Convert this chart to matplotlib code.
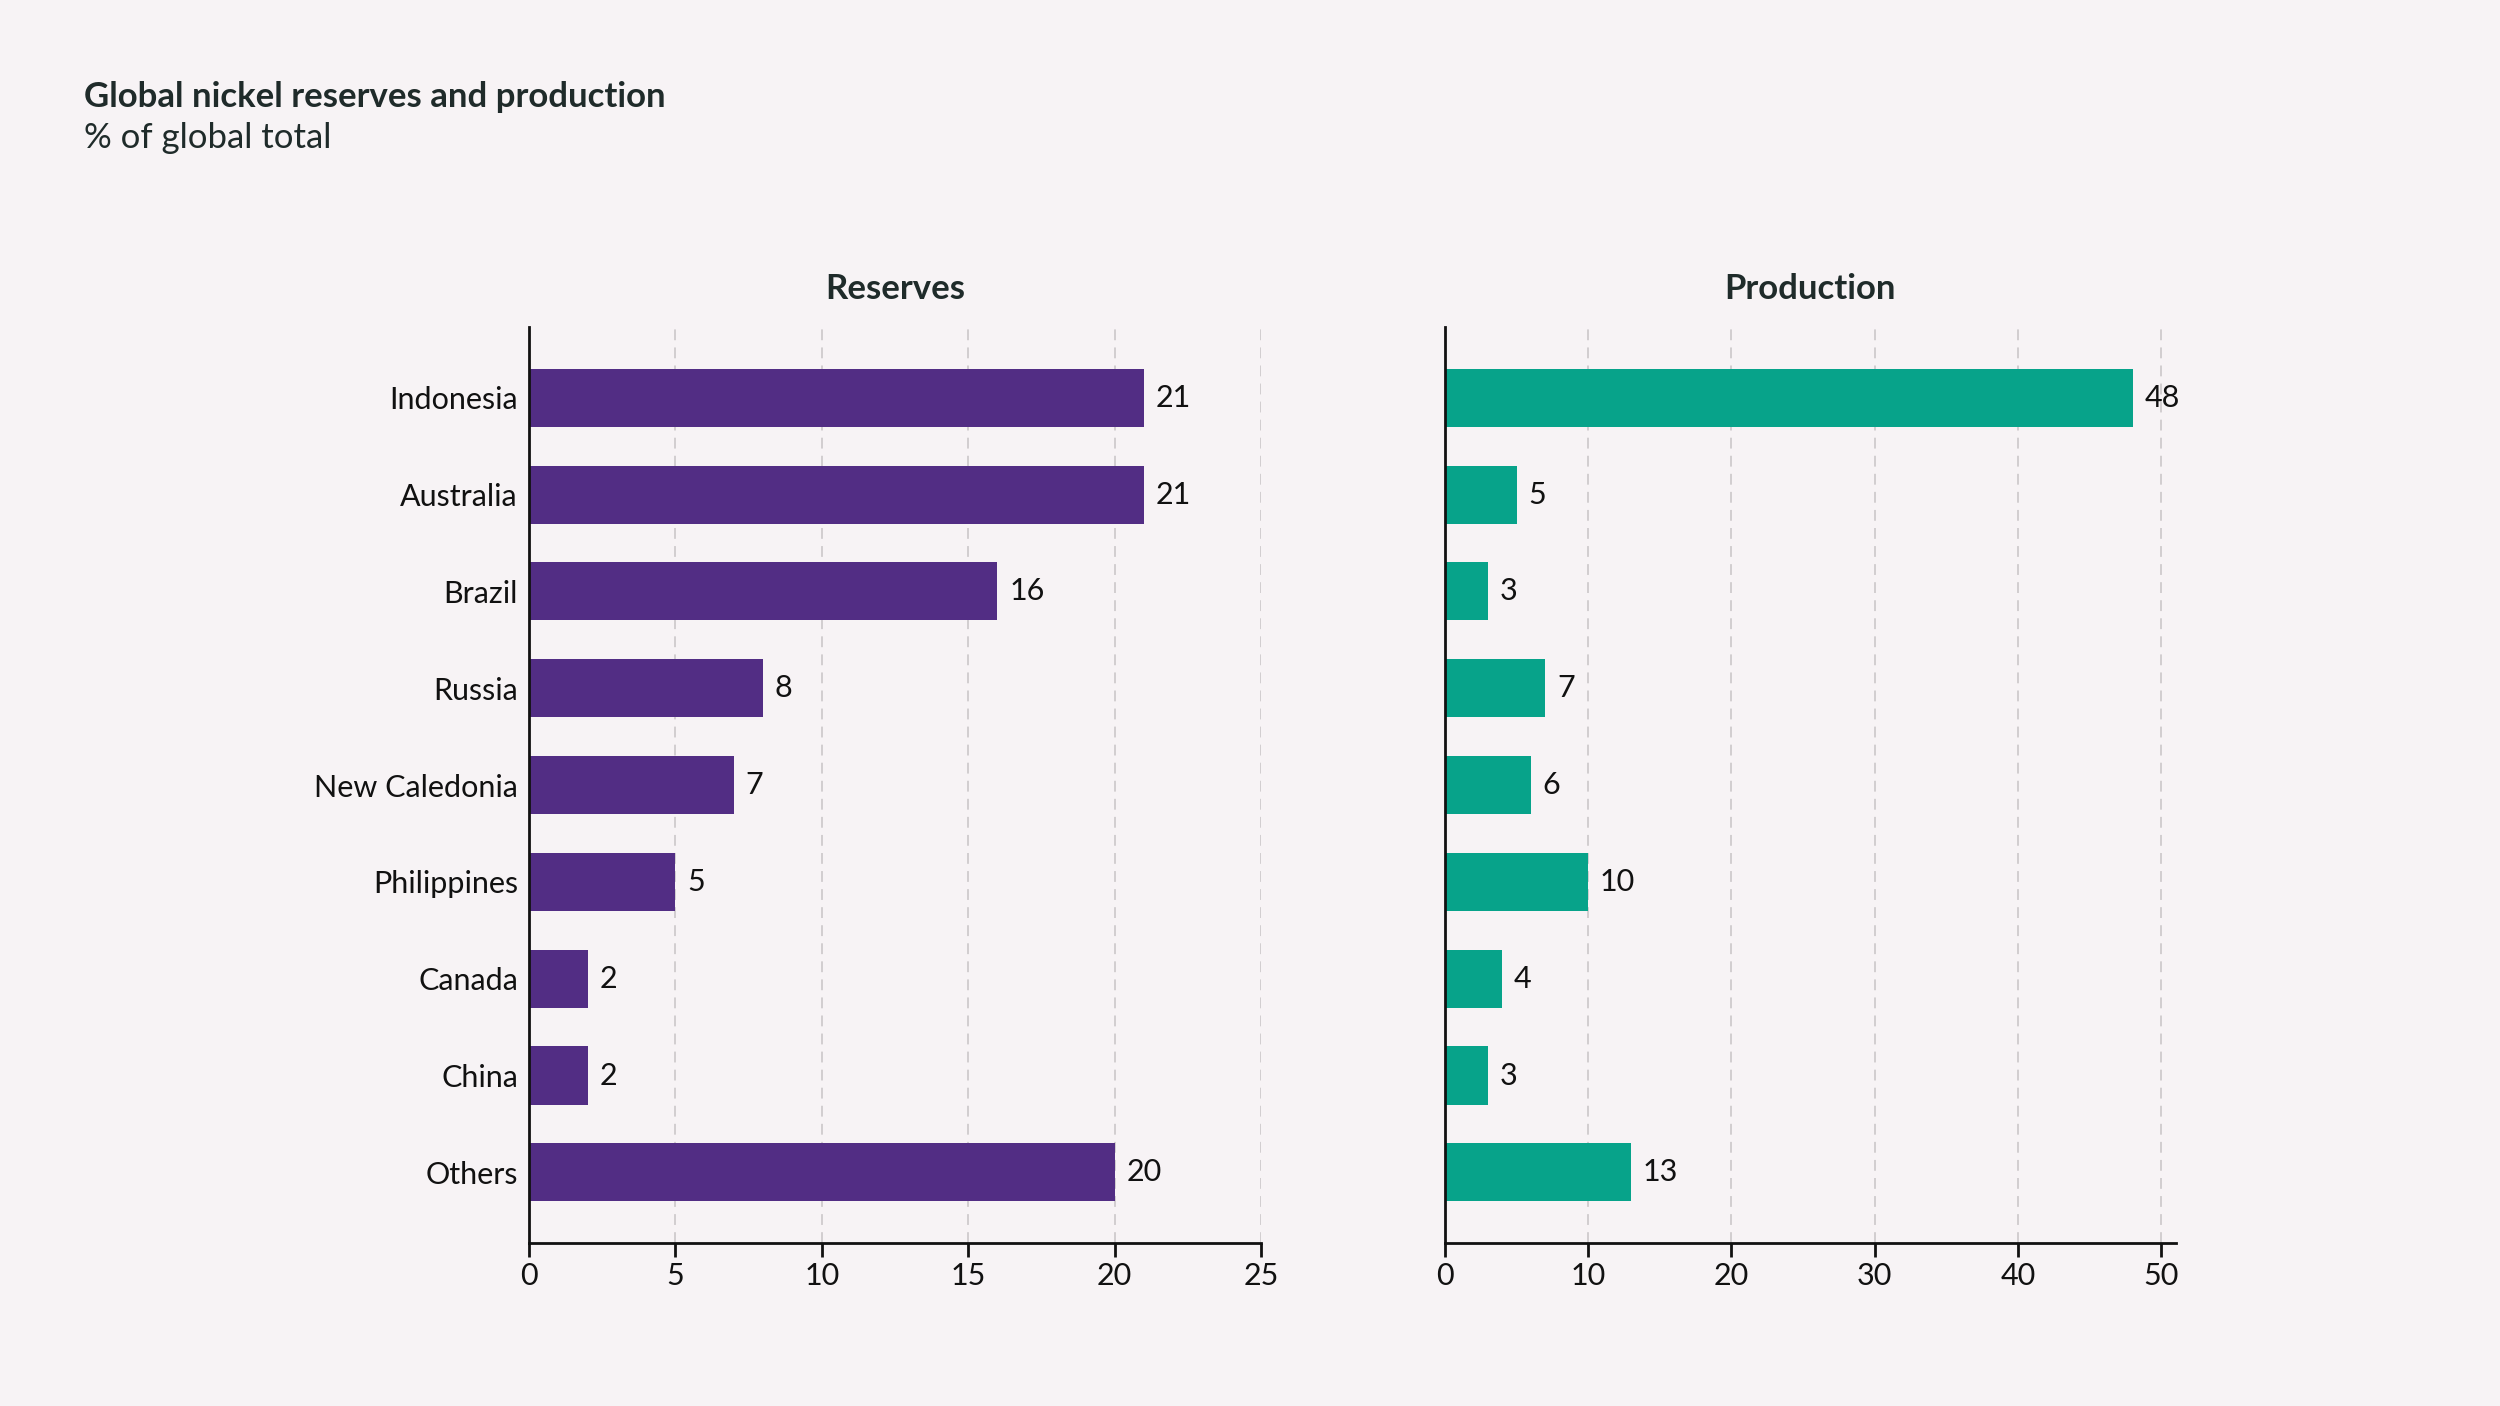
import matplotlib.pyplot as plt

# data
countries = ['Indonesia', 'Australia', 'Brazil', 'Russia', 'New Caledonia',
             'Philippines', 'Canada', 'China', 'Others']
reserves = [21, 21, 16, 8, 7, 5, 2, 2, 20]
production = [48, 5, 3, 7, 6, 10, 4, 3, 13]
reserve_ticks = [0, 5, 10, 15, 20, 25]
production_ticks = [0, 10, 20, 30, 40, 50]

BG = '#F7F3F5'
PURPLE = '#522D84'
TEAL = '#07A38A'
TEXT = '#1F2B2A'

plt.rcParams['font.family'] = ['Lato', 'DejaVu Sans']

fig = plt.figure(figsize=(25, 14.06), dpi=100, facecolor=BG)

ax1 = fig.add_axes([0.2116, 0.1159, 0.2928, 0.6515])
ax2 = fig.add_axes([0.578, 0.1159, 0.2922, 0.6515])


def draw_panel(ax, values, color, ticks, xmax, title, show_labels):
    ax.set_facecolor(BG)
    pos = list(range(len(countries)))
    ax.barh(pos, values, height=0.6, color=color, zorder=2)
    for p, v in zip(pos, values):
        ax.text(v + xmax * 0.016, p, f'{v}', va='center', ha='left',
                fontsize=22, color='#111111')
    ax.set_ylim(len(countries) - 1 + 0.73, -0.73)
    ax.set_xlim(0, xmax)
    ax.set_xticks(ticks)
    ax.set_xticklabels([str(t) for t in ticks], fontsize=22, color='#111111')
    for t in ticks[1:]:
        ax.axvline(t, color='#CFCBCD', lw=1.3, ls=(0, (6, 4)), zorder=1)
    ax.set_yticks(pos)
    if show_labels:
        ax.set_yticklabels(countries, fontsize=22, color='#111111')
    else:
        ax.set_yticklabels([])
    ax.tick_params(axis='y', length=0, pad=8)
    ax.tick_params(axis='x', length=10, width=2, color='#111111', pad=4)
    for s in ['top', 'right']:
        ax.spines[s].set_visible(False)
    ax.spines['left'].set_linewidth(2)
    ax.spines['bottom'].set_linewidth(2)
    ax.spines['left'].set_color('#111111')
    ax.spines['bottom'].set_color('#111111')
    ax.set_title(title, fontsize=25, fontweight='bold', color=TEXT, pad=20)


draw_panel(ax1, reserves, PURPLE, reserve_ticks, 25, 'Reserves', True)
draw_panel(ax2, production, TEAL, production_ticks, 51, 'Production', False)

fig.text(0.0336, 0.931, 'Global nickel reserves and production', fontsize=25,
         fontweight='bold', color=TEXT, va='center', ha='left')
fig.text(0.0336, 0.902, '% of global total', fontsize=25, color=TEXT,
         va='center', ha='left')

fig.savefig('out.png', dpi=100, facecolor=BG)
